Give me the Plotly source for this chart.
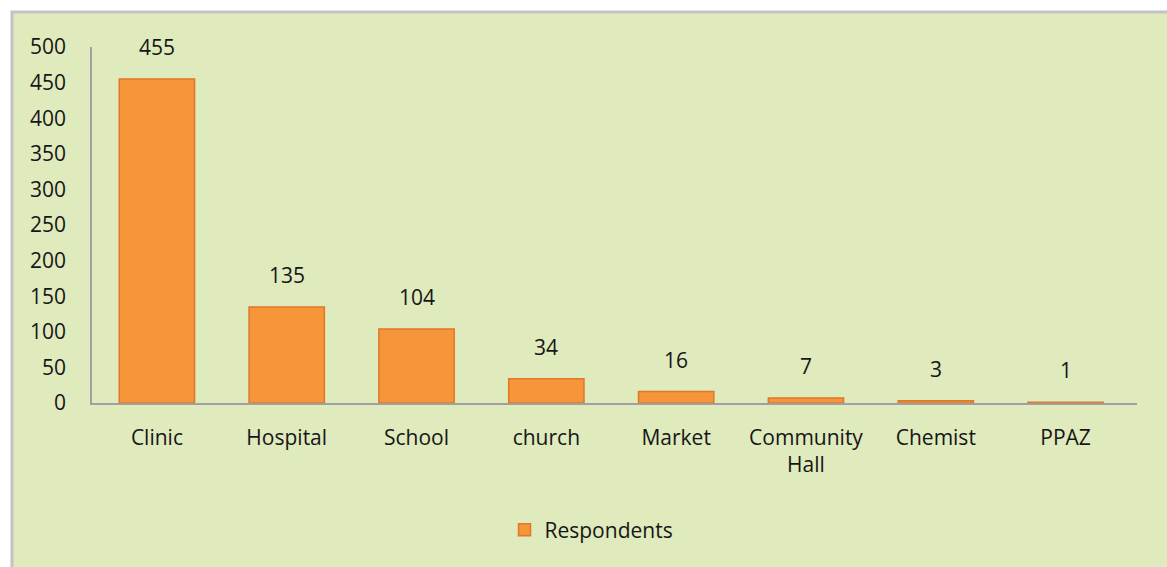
import plotly.graph_objects as go

categories = ["Clinic", "Hospital", "School", "church", "Market", "Community<br>Hall", "Chemist", "PPAZ"]
respondents = [455, 135, 104, 34, 16, 7, 3, 1]
y_ticks = [0, 50, 100, 150, 200, 250, 300, 350, 400, 450, 500]

FONT = "'Open Sans', Lato, sans-serif"
BG = "#dfeabd"
TXT = "#161616"
FS = 21

fig = go.Figure()
fig.add_trace(go.Bar(
    x=categories, y=respondents, name="Respondents",
    marker=dict(color="#f7953a", line=dict(color="#e07828", width=1.5)),
))

for c, v in zip(categories, respondents):
    fig.add_annotation(x=c, y=v, text=str(v), showarrow=False, yshift=32,
                       font=dict(family=FONT, size=FS, color=TXT))

fig.add_shape(type="rect", xref="paper", yref="paper", x0=-0.0766, x1=1.2,
              y0=-0.7, y1=1.098, fillcolor=BG, line=dict(color="#c4c4c4", width=3),
              layer="below")

fig.update_layout(
    width=1167, height=567,
    margin=dict(l=92, r=30, t=47, b=164),
    paper_bgcolor="white", plot_bgcolor="rgba(0,0,0,0)",
    bargap=0.42,
    font=dict(family=FONT, size=FS, color=TXT),
    showlegend=True,
    legend=dict(orientation="h", x=0.478, xanchor="center", y=-0.357, yanchor="middle",
                itemwidth=30,
                font=dict(family=FONT, size=FS, color=TXT), bgcolor="rgba(0,0,0,0)"),
    xaxis=dict(showline=True, linecolor="#a0a0a0", linewidth=1.5, showgrid=False,
               ticks="outside", ticklen=15, tickcolor="rgba(0,0,0,0)",
               range=[-0.5, 7.55], tickfont=dict(family=FONT, size=FS, color=TXT)),
    yaxis=dict(range=[0, 500], tickvals=y_ticks, showline=True, linecolor="#a0a0a0",
               linewidth=1.5, showgrid=False, zeroline=False,
               ticks="outside", ticklen=20, tickcolor="rgba(0,0,0,0)",
               tickfont=dict(family=FONT, size=FS, color=TXT)),
)

fig.write_html("out.html")
